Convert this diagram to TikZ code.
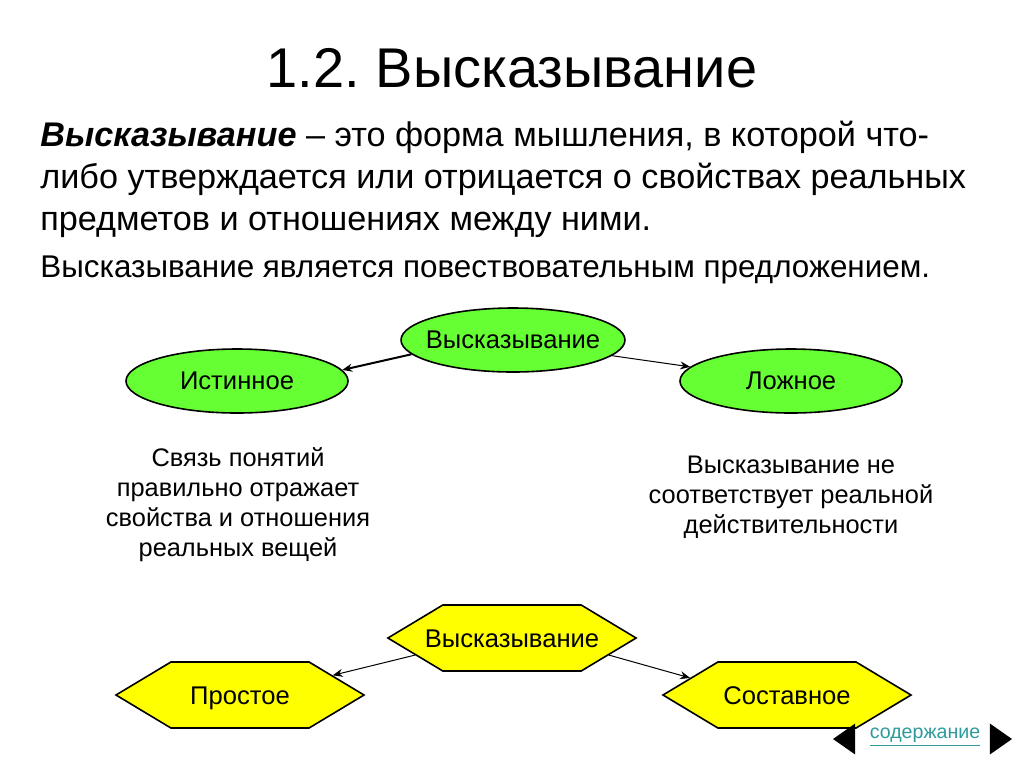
\documentclass[tikz,border=0pt]{standalone}
\usepackage{fontspec}
\setmainfont{Liberation Sans}
\usetikzlibrary{arrows.meta,positioning,shapes.geometric,shapes.symbols}
\definecolor{ovalcol}{HTML}{66FF33}
\definecolor{hexcol}{HTML}{FFFF00}
\definecolor{navcol}{HTML}{2E9A9A}
\frenchspacing

\begin{document}
\begin{tikzpicture}[
  x=0.5pt, y=0.5pt,
  oval/.style={ellipse, draw, line width=0.8pt, fill=ovalcol, minimum width=111pt,
               minimum height=32pt, inner xsep=-4pt, inner ysep=0pt,
               font=\fontsize{12.8}{14}\selectfont},
  hexa/.style={signal, signal to=west and east, signal pointer angle=62, draw,
               line width=0.8pt, fill=hexcol, minimum width=124pt, minimum height=33pt,
               inner xsep=-9pt, inner ysep=0pt, text height=9.5pt, text depth=0pt,
               font=\fontsize{12.8}{14}\selectfont},
  note/.style={align=center, font=\fontsize{12.7}{15}\selectfont},
  nav/.style={isosceles triangle, fill=black, minimum width=11pt, minimum height=11pt,
              inner sep=0pt, isosceles triangle apex angle=70},
  ar/.style={-{Stealth[length=5pt,width=4pt]}, line width=0.5pt},
]
\useasboundingbox (0,0) rectangle (1024,-768);

\node[font=\fontsize{28}{34}\selectfont] (title) at (512,-68) {1.2. Высказывание};

\node[anchor=north west, align=left, inner sep=0pt, font=\fontsize{17.1}{21}\selectfont]
  (defn) at (40,-121) {\textbf{\textit{Высказывание}} -- это форма мышления, в которой что-\\
  либо утверждается или отрицается о свойствах реальных\\
  предметов и отношениях между ними.};
\node[anchor=north west, inner sep=0pt, font=\fontsize{15.7}{21}\selectfont]
  (sent) at (40,-255) {Высказывание является повествовательным предложением.};

% truth value
\node[oval] (root) at (513,-340) {Высказывание};
\node[oval] (true) at (237,-381) {Истинное};
\node[oval] (false) at (791,-381) {Ложное};
\draw[ar, line width=1pt] (root.188) -- (true.6);
\draw[ar] (root.-9) -- (false.172);

\node[note] (truetxt) at (238,-505) {Связь понятий\\правильно отражает\\свойства и отношения\\реальных вещей};
\node[note] (falsetxt) at (791,-497) {Высказывание не\\соответствует реальной\\действительности};

% structure
\node[hexa] (hroot) at (512,-638) {Высказывание};
\node[hexa] (simple) at (240,-695) {Простое};
\node[hexa] (compound) at (787,-695) {Составное};
\draw[ar] (hroot.190) -- (simple.12);
\draw[ar] (hroot.-10) -- (compound.170);

% navigation
\node[nav, shape border rotate=180] (prev) at (847,-739) {};
\node[text=navcol, font=\fontsize{9.8}{11}\selectfont] (toc) at (925,-737) {\underline{содержание}};
\node[nav] (next) at (998,-739) {};
\end{tikzpicture}
\end{document}
